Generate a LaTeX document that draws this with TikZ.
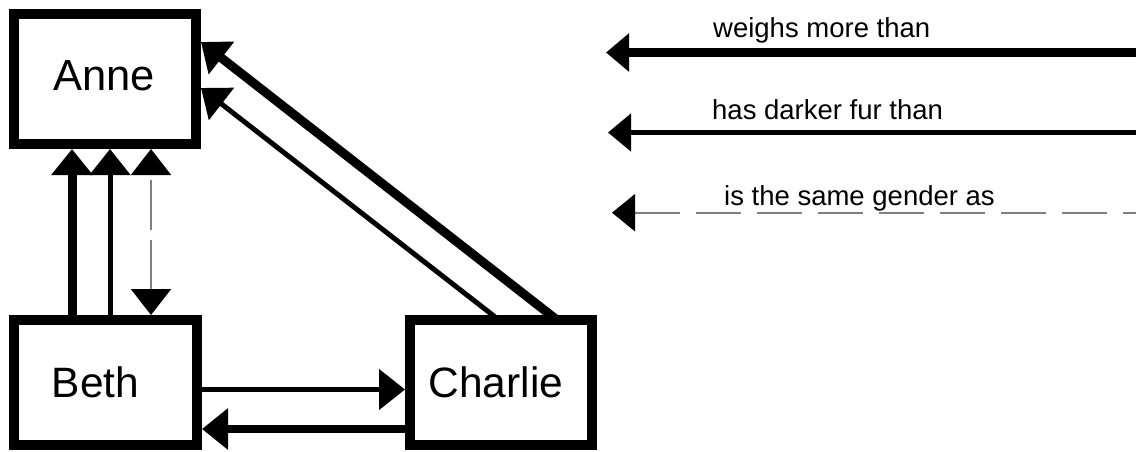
\documentclass[tikz,border=0pt]{standalone}
\usepackage{fontspec}
\setmainfont{Liberation Sans}
\usetikzlibrary{arrows.meta}
\begin{document}
\begin{tikzpicture}[x=1pt,y=-1pt,
  box/.style={draw, line width=10pt, minimum width=182pt, minimum height=125pt,
    inner sep=0pt, outer sep=5pt, font=\fontsize{42.5}{50}\selectfont},
  tipped/.style={-{Triangle[length=26pt,width=40pt]}},
  heavy/.style={line width=9pt, tipped},
  light/.style={line width=5pt, tipped},
  samegender/.style={line width=2pt, draw=gray, dash pattern=on 50pt off 10pt,
    {Triangle[length=26pt,width=40pt,color=black]}-{Triangle[length=26pt,width=40pt,color=black]}},
  legtip/.style={-{Triangle[length=23pt,width=37pt,color=black]}},
  legdash/.style={line width=2pt, draw=gray, dash pattern=on 45pt off 16pt,
    {Triangle[length=23pt,width=37pt,color=black]}-},
  lab/.style={anchor=base west, inner sep=0pt, font=\fontsize{27.5}{33}\selectfont}]
\useasboundingbox (0,0) rectangle (1136,451);

% boxes
\node[box, minimum height=130pt, text depth=7pt, font=\fontsize{43.5}{50}\selectfont] (anne) at (105,79) {Anne\hspace{2pt}\null};
\node[box, minimum width=183pt] (beth) at (105.5,382.5) {Beth\hspace{20pt}\null};
\node[box] (charlie) at (501,382.5) {Charlie\hspace{10pt}\null};

% Beth -> Anne
\draw[heavy] ([xshift=63pt]beth.north west) -- ([xshift=63pt]anne.south west);
\draw[light] ([xshift=101pt]beth.north west) -- ([xshift=101pt]anne.south west);
\draw[samegender] ([xshift=142pt]beth.north west) -- ([xshift=142pt]anne.south west);

% Beth <-> Charlie
\draw[light] ([yshift=-74.5pt]beth.north east) -- ([yshift=-74.5pt]charlie.north west);
\draw[heavy, line width=8pt] ([yshift=-114pt]charlie.north west) -- ([yshift=-114pt]beth.north east);

% Charlie -> Anne
\draw[heavy] ([xshift=152pt,yshift=-5pt]charlie.north west) -- ([yshift=-33pt]anne.north east);
\draw[light] ([xshift=94pt,yshift=-5pt]charlie.north west) -- ([yshift=-79pt]anne.north east);

% legend
\coordinate (r1) at (1136,52.5);
\coordinate (l1) at (606,52.5);
\coordinate (r2) at (1136,132.5);
\coordinate (l2) at (608,132.5);
\coordinate (r3) at (1136,212.7);
\coordinate (l3) at (612,212.7);
\draw[line width=8.5pt, legtip] (r1) -- (l1);
\draw[line width=5pt, legtip] (r2) -- (l2);
\draw[legdash] (l3) -- (r3);
\node[lab] (t1) at (713,37) {weighs more than};
\node[lab] (t2) at (712,119) {has darker fur than};
\node[lab] (t3) at (724,205) {is the same gender as};
\end{tikzpicture}
\end{document}
